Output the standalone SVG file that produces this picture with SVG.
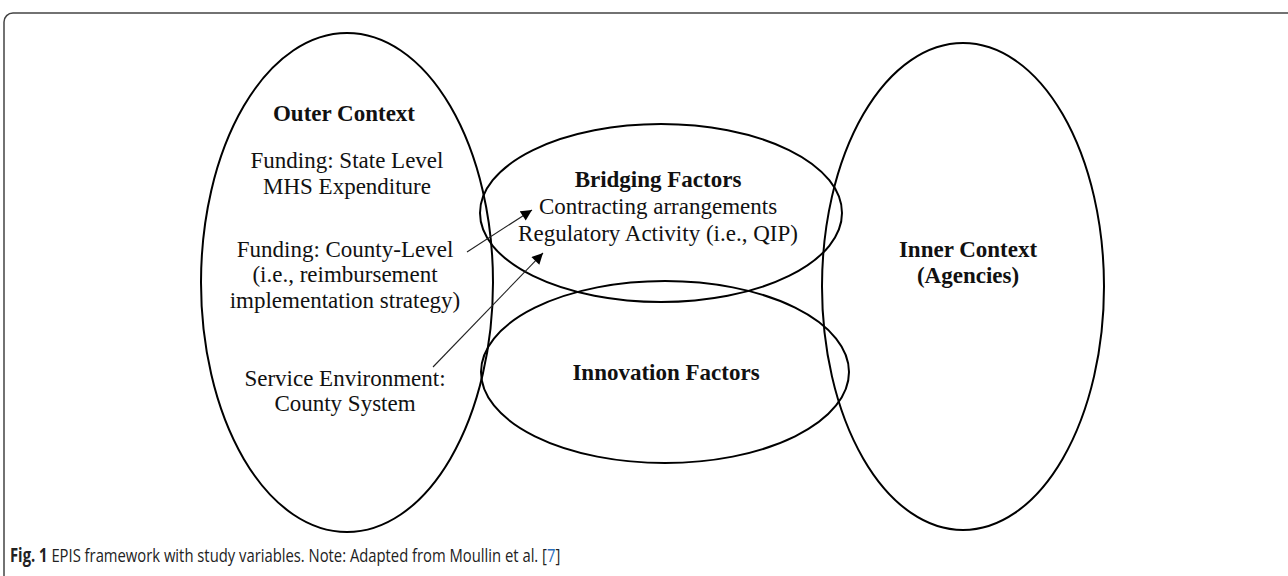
<svg xmlns="http://www.w3.org/2000/svg" width="1288" height="576" viewBox="0 0 1288 576">
<style>
.ell{fill:none;stroke:#000;stroke-width:2}
.t{font-family:"Liberation Serif","Times New Roman",serif;font-size:23px;fill:#111;text-anchor:middle}
.b{font-weight:bold}
.con{stroke:#222;stroke-width:1.1;fill:none}
.cap{font-family:"Open Sans","Noto Sans",sans-serif;font-size:19px;fill:#222}
</style>
<defs>
<marker id="ah" viewBox="0 0 10 10" refX="10" refY="5" markerWidth="12" markerHeight="11" markerUnits="userSpaceOnUse" orient="auto">
<path d="M0,0 L10,5 L0,10 Z" fill="#000"/>
</marker>
</defs>
<rect width="1288" height="576" fill="#fff"/>
<rect x="4" y="13" width="1310" height="600" rx="9" fill="none" stroke="#444" stroke-width="1.5"/>
<g id="outer-context">
<ellipse class="ell" cx="347" cy="282.5" rx="146" ry="249.5"/>
<text class="t b" x="344" y="121">Outer Context</text>
<text class="t" x="347" y="168">Funding: State Level</text>
<text class="t" x="347" y="194">MHS Expenditure</text>
<text class="t" x="345" y="257">Funding: County-Level</text>
<text class="t" x="345" y="282">(i.e., reimbursement</text>
<text class="t" x="345" y="308">implementation strategy)</text>
<text class="t" x="345" y="386">Service Environment:</text>
<text class="t" x="345" y="411">County System</text>
</g>
<g id="bridging-factors">
<ellipse class="ell" cx="661" cy="213" rx="181" ry="89"/>
<text class="t b" x="658" y="187">Bridging Factors</text>
<text class="t" x="658" y="214">Contracting arrangements</text>
<text class="t" x="658" y="241">Regulatory Activity (i.e., QIP)</text>
</g>
<g id="innovation-factors">
<ellipse class="ell" cx="665" cy="372" rx="184" ry="91"/>
<text class="t b" x="666" y="380">Innovation Factors</text>
</g>
<g id="inner-context">
<ellipse class="ell" cx="963" cy="286.5" rx="141" ry="243.5"/>
<text class="t b" x="968" y="257">Inner Context</text>
<text class="t b" x="968" y="283">(Agencies)</text>
</g>
<g id="connectors">
<line class="con" x1="467" y1="252" x2="532" y2="210" marker-end="url(#ah)"/>
<line class="con" x1="433" y1="367" x2="543" y2="253" marker-end="url(#ah)"/>
</g>
<text class="cap" transform="translate(10,562) scale(0.78,1)" x="0" y="0"><tspan font-weight="bold">Fig. 1</tspan> EPIS framework with study variables. Note: Adapted from Moullin et al. [<tspan fill="#2a6ebb">7</tspan>]</text>
</svg>
